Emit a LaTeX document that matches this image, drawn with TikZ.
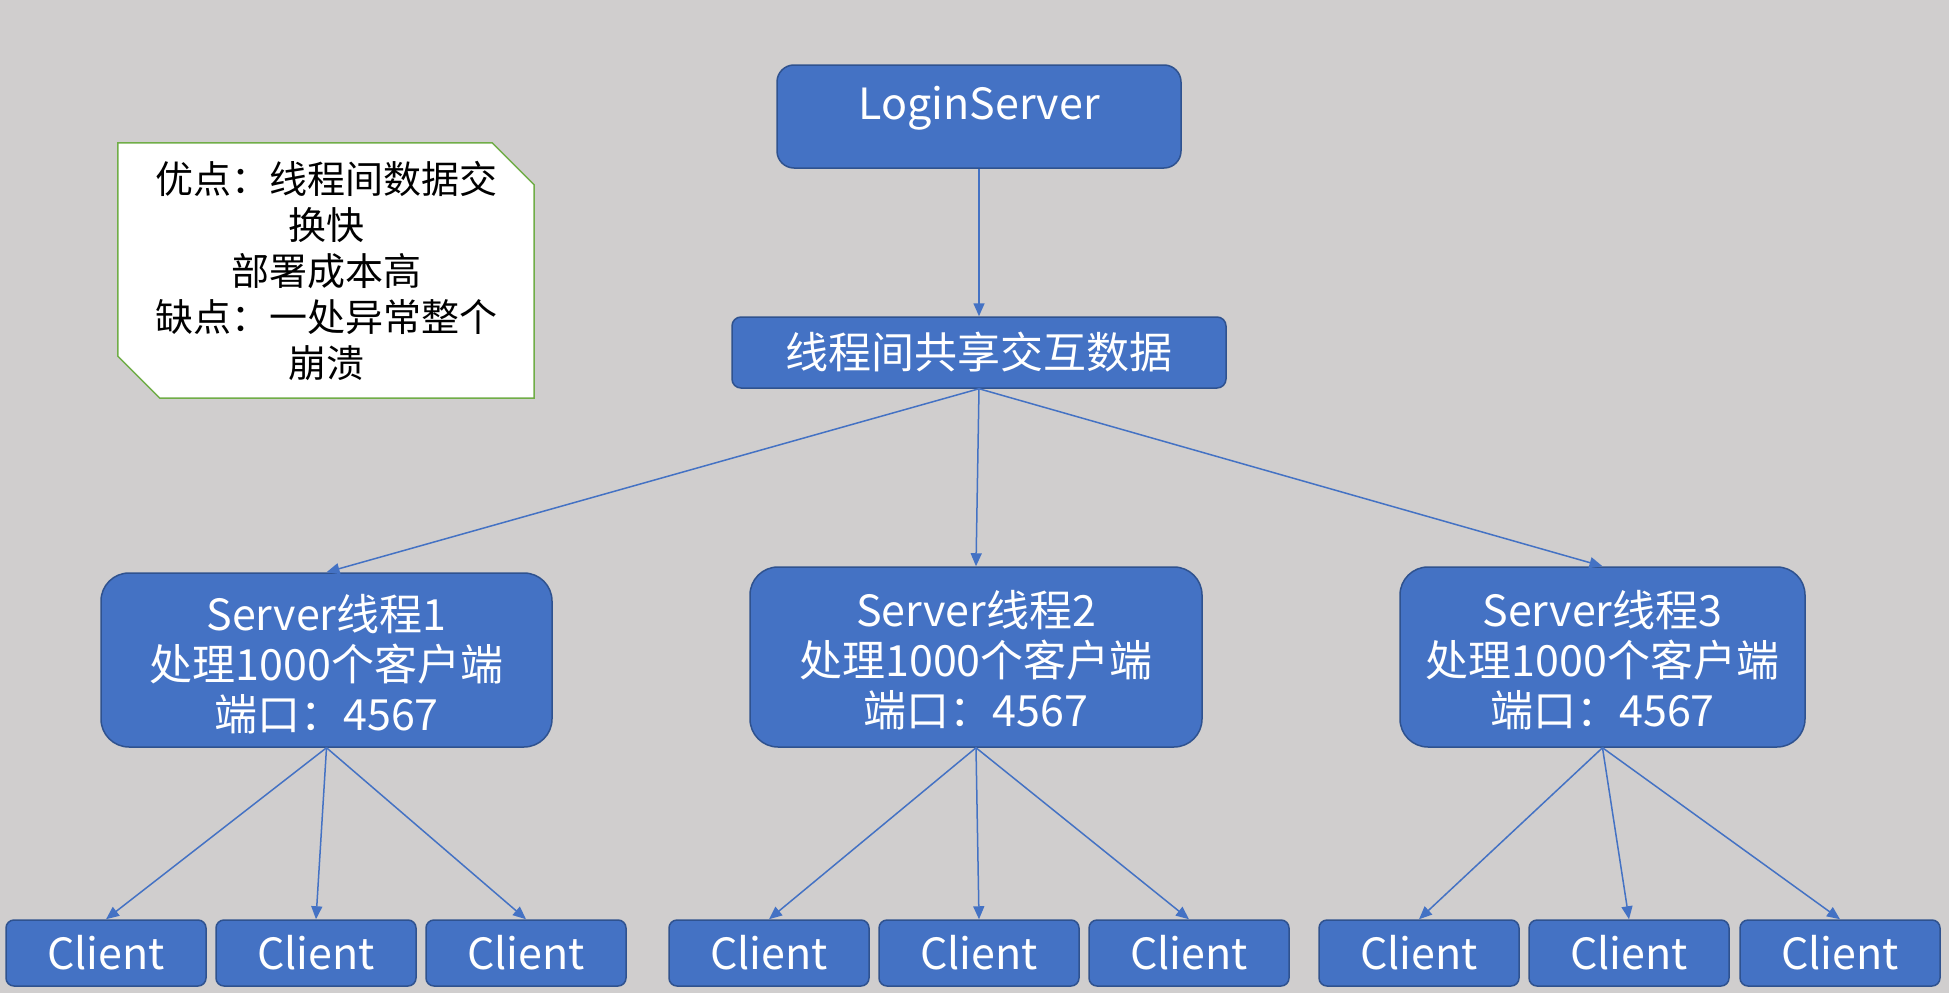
\documentclass[tikz,border=0pt]{standalone}
\usepackage{fontspec}
\setmainfont{Noto Sans CJK SC}
\usetikzlibrary{arrows.meta}
\definecolor{bgc}{RGB}{208,206,206}
\definecolor{blu}{RGB}{68,114,196}
\definecolor{bord}{RGB}{47,82,143}
\definecolor{grn}{RGB}{112,173,71}
\pgfdeclarelayer{bg}
\pgfsetlayers{bg,main}
\begin{document}
\begin{tikzpicture}[x=1pt,y=-1pt,
  bluebox/.style={draw=bord, line width=1.5pt, fill=blu, text=white, inner sep=0pt, align=center},
  loginbox/.style={bluebox, rounded corners=17pt, minimum width=404pt, minimum height=103pt, font=\fontsize{43}{52}\selectfont, text depth=28pt},
  sharebox/.style={bluebox, rounded corners=9pt, minimum width=494pt, minimum height=71pt, font=\fontsize{43}{52}\selectfont},
  serverbox/.style={bluebox, rounded corners=28pt, minimum height=180pt, font=\fontsize{43}{50}\selectfont},
  clientbox/.style={bluebox, rounded corners=8pt, minimum width=200pt, minimum height=66pt, font=\fontsize{43}{52}\selectfont},
  notetext/.style={inner sep=0pt, align=center, minimum width=416pt, minimum height=255pt, font=\fontsize{38}{46}\selectfont, text=black},
  conn/.style={draw=blu, line width=1.5pt, -{Triangle[length=13pt,width=11pt]}}
]
\useasboundingbox (0,0) rectangle (1949,993);
\begin{pgfonlayer}{bg}
\fill[bgc] (0,0) rectangle (1949,993);
\end{pgfonlayer}

% note
\node[notetext] (note) at (326,270.5) {优点：线程间数据交\\换快\\部署成本高\\缺点：一处异常整个\\崩溃};
\begin{pgfonlayer}{bg}
\draw[draw=grn, fill=white, line width=1.5pt]
  (note.north west) -- ([xshift=-42pt]note.north east) -- ([yshift=-42pt]note.north east)
  -- (note.south east) -- ([xshift=42pt]note.south west) -- ([yshift=42pt]note.south west) -- cycle;
\end{pgfonlayer}

% top
\node[loginbox] (login) at (979,116.5) {LoginServer};
\node[sharebox] (share) at (979,352.5) {线程间共享交互数据};

% servers
\node[serverbox, minimum width=451pt, minimum height=174pt, text height=145pt] (s1) at (326.5,660) {Server线程1\\处理1000个客户端\\端口：4567};
\node[serverbox, minimum width=452pt, text height=142pt] (s2) at (976,657) {Server线程2\\处理1000个客户端\\端口：4567};
\node[serverbox, minimum width=405pt, text height=142pt] (s3) at (1602.5,657) {Server线程3\\处理1000个客户端\\端口：4567};

% clients
\node[clientbox] (c11) at (106,953) {Client};
\node[clientbox] (c12) at (316,953) {Client};
\node[clientbox] (c13) at (526,953) {Client};
\node[clientbox] (c21) at (769,953) {Client};
\node[clientbox] (c22) at (979,953) {Client};
\node[clientbox] (c23) at (1189,953) {Client};
\node[clientbox] (c31) at (1419,953) {Client};
\node[clientbox] (c32) at (1629,953) {Client};
\node[clientbox] (c33) at (1840,953) {Client};

% connectors
\draw[conn] (login.south) -- (share.north);
\draw[conn] (share.south) -- (s1.north);
\draw[conn] (share.south) -- (s2.north);
\draw[conn] (share.south) -- (s3.north);
\draw[conn] (s1.south) -- (c11.north);
\draw[conn] (s1.south) -- (c12.north);
\draw[conn] (s1.south) -- (c13.north);
\draw[conn] (s2.south) -- (c21.north);
\draw[conn] (s2.south) -- (c22.north);
\draw[conn] (s2.south) -- (c23.north);
\draw[conn] (s3.south) -- (c31.north);
\draw[conn] (s3.south) -- (c32.north);
\draw[conn] (s3.south) -- (c33.north);
\end{tikzpicture}
\end{document}
